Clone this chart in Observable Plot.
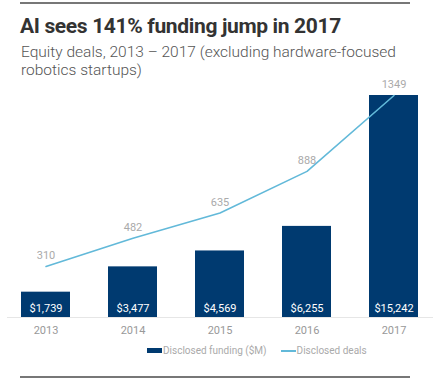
<!DOCTYPE html>
<html>
<head>
<meta charset="utf-8">
<script src="https://cdn.jsdelivr.net/npm/d3@7"></script>
<script src="https://cdn.jsdelivr.net/npm/@observablehq/plot@0.6"></script>
<style>
  html, body { margin: 0; padding: 0; background: #fff; }
  #wrap { position: relative; width: 435px; height: 381px; overflow: hidden; font-family: Roboto, "Noto Sans", sans-serif; }
  .rule { position: absolute; left: 20px; width: 390px; height: 2px; background: #777; }
  #title { position: absolute; left: 20px; top: 14px; font-size: 21px; font-weight: 700; color: #333; white-space: nowrap; letter-spacing: -0.35px; }
  #subtitle { position: absolute; left: 21px; top: 43px; font-size: 15.5px; font-weight: 300; color: #555; line-height: 18px; width: 400px; }
  #chart { position: absolute; left: 0; top: 70px; }
  #legend { position: absolute; left: 147px; top: 345px; font-size: 10px; color: #aaa; display: flex; align-items: center; white-space: nowrap; }
  .sw-rect { display: inline-block; width: 15px; height: 5px; background: #003a70; margin-right: 1px; }
  .sw-line { display: inline-block; width: 15px; height: 2px; background: #62b9d9; margin-left: 14px; margin-right: 1px; }
</style>
</head>
<body>
<div id="wrap">
  <div class="rule" style="top:2px"></div>
  <div id="title">AI sees 141% funding jump in 2017</div>
  <div id="subtitle">Equity deals, 2013 – 2017 (excluding hardware-focused robotics startups)</div>
  <div id="chart"></div>
  <div id="legend"><span class="sw-rect"></span><span>Disclosed funding ($M)</span><span class="sw-line"></span><span>Disclosed deals</span></div>
  <div class="rule" style="top:376px"></div>
</div>
<script>
const years = ["2013", "2014", "2015", "2016", "2017"];
const funding = [1739, 3477, 4569, 6255, 15242];
const deals = [310, 482, 635, 888, 1349];
const fundingLabels = ["$1,739", "$3,477", "$4,569", "$6,255", "$15,242"];

const maxF = d3.max(funding);
const maxD = d3.max(deals);
const rows = years.map((y, i) => ({
  year: y,
  funding: funding[i],
  deals: deals[i],
  dealsScaled: deals[i] * maxF / maxD,
  fLabel: fundingLabels[i]
}));

const chart = Plot.plot({
  width: 435,
  height: 272,
  marginTop: 25,
  marginBottom: 25,
  marginLeft: 7,
  marginRight: 2,
  style: { fontFamily: "Roboto, sans-serif", background: "transparent" },
  x: { domain: years, paddingInner: 0.433, paddingOuter: 0.14, label: null, tickSize: 0, tickPadding: 9 },
  y: { domain: [0, maxF], axis: null },
  marks: [
    Plot.ruleY([0], { stroke: "#e6e6e6" }),
    Plot.barY(rows, { x: "year", y: "funding", fill: "#003a70" }),
    Plot.text(rows, { x: "year", y: 0, text: "fLabel", dy: -9, fill: "#fff", fontSize: 11 }),
    Plot.line(rows, { x: "year", y: "dealsScaled", stroke: "#62b9d9", strokeWidth: 1.6 }),
    Plot.text(rows, { x: "year", y: "dealsScaled", text: d => String(d.deals), dy: -11, fill: "#aaa", fontSize: 11 }),
    Plot.axisX({ tickSize: 0, tickPadding: 9, fontSize: 11, color: "#999", label: null })
  ]
});
document.getElementById("chart").appendChild(chart);
</script>
</body>
</html>
